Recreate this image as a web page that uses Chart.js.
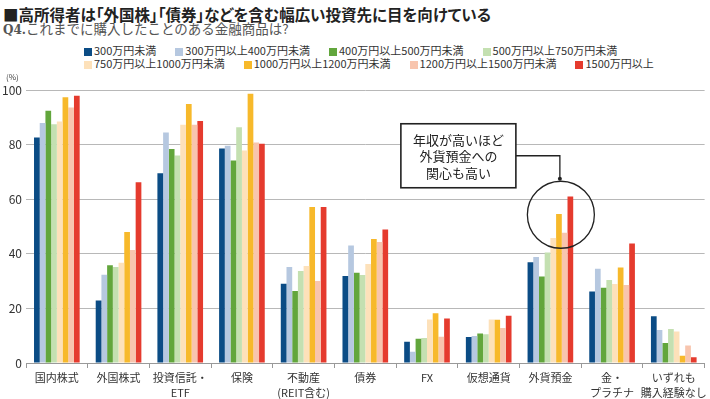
<!DOCTYPE html>
<html lang="ja">
<head>
	<meta charset="UTF-8">
	<title>これまでに購入したことのある金融商品</title>
	<script src="https://cdn.jsdelivr.net/npm/chart.js"></script>
	<style>
		body {
			margin: 0;
			width: 710px;
			height: 399px;
			position: relative;
			overflow: hidden;
			background: #fff;
			font-family: "Noto Sans CJK JP", sans-serif;
			color: #222;
		}

		#title {
			position: absolute;
			left: 3px;
			top: 4px;
			font-size: 15.5px;
			font-weight: bold;
			line-height: 20px;
			white-space: nowrap;
			font-feature-settings: "palt";
		}

		#subtitle {
			position: absolute;
			left: 3px;
			top: 19px;
			font-size: 13.5px;
			line-height: 18px;
			color: #555;
			white-space: nowrap;
		}

		#subtitle .q {
			font-family: "DejaVu Serif", "Liberation Serif", serif;
			font-weight: bold;
			font-size: 12px;
		}

		#legend {
			position: absolute;
			left: 84px;
			top: 44px;
			font-size: 11px;
			color: #333;
		}

		#legend .row {
			display: flex;
			gap: 19px;
			height: 13px;
			line-height: 13px;
			white-space: nowrap;
		}

		#legend .box {
			display: inline-block;
			width: 8px;
			height: 8px;
			margin-right: 2px;
			vertical-align: -0.5px;
		}

		#chart {
			position: absolute;
			left: 0;
			top: 0;
		}
	</style>
</head>

<body>

	<div id="title">■高所得者は「外国株」「債券」などを含む幅広い投資先に目を向けている</div>
	<div id="subtitle"><span class="q">Q4.</span>これまでに購入したことのある金融商品は?</div>
	<div id="legend"></div>
	<canvas id="chart" width="710" height="399"></canvas>

	<script>
		// categories (x axis)
		const categories = [
			['国内株式'], ['外国株式'], ['投資信託・', 'ETF'], ['保険'], ['不動産', '(REIT含む)'],
			['債券'], ['FX'], ['仮想通貨'], ['外貨預金'], ['金・', 'プラチナ'], ['いずれも', '購入経験なし']
		];

		// income brackets
		const seriesNames = [
			'300万円未満', '300万円以上400万円未満', '400万円以上500万円未満', '500万円以上750万円未満',
			'750万円以上1000万円未満', '1000万円以上1200万円未満', '1200万円以上1500万円未満', '1500万円以上'
		];

		// values in %, one array per bracket, same order as categories
		const under300 = [82.6, 22.9, 69.5, 78.6, 29.0, 31.9, 7.8, 9.5, 36.9, 26.2, 17.1];
		const from300to400 = [87.9, 32.3, 84.4, 79.6, 35.2, 43.0, 4.1, 9.9, 38.8, 34.5, 12.1];
		const from400to500 = [92.4, 35.8, 78.4, 74.2, 26.4, 33.1, 8.9, 10.8, 31.7, 27.6, 7.3];
		const from500to750 = [87.5, 35.2, 76.0, 86.4, 33.7, 32.2, 9.2, 10.5, 40.5, 30.4, 12.5];
		const from750to1000 = [88.5, 36.7, 87.3, 77.8, 35.5, 36.3, 15.9, 15.9, 45.8, 28.9, 11.5];
		const from1000to1200 = [97.3, 48.0, 94.9, 98.6, 57.1, 45.4, 18.2, 15.8, 54.6, 35.0, 2.7];
		const from1200to1500 = [93.6, 41.4, 87.3, 80.8, 30.0, 44.3, 9.6, 12.8, 47.7, 28.6, 6.4];
		const over1500 = [97.9, 66.2, 88.6, 80.3, 57.1, 48.9, 16.3, 17.3, 61.0, 43.8, 2.1];

		const seriesValues = [under300, from300to400, from400to500, from500to750,
			from750to1000, from1000to1200, from1200to1500, over1500];

		// y axis ticks
		const yTicks = [0, 20, 40, 60, 80, 100];

		const colors = ['#0b4c85', '#b6c8e0', '#62a63c', '#c4e0b1', '#fde1ba', '#f7b92b', '#f8c5ae', '#e53b2e'];

		// annotation
		const noteLines = ['年収が高いほど', '外貨預金への', '関心も高い'];
		const noteCategory = 8;
		const noteValue = 54.3;

		// build html legend (two rows of four)
		const legend = document.getElementById('legend');
		for (let r = 0; r < 2; r++) {
			const row = document.createElement('div');
			row.className = 'row';
			for (let i = r * 4; i < r * 4 + 4; i++) {
				const item = document.createElement('span');
				item.innerHTML = '<span class="box" style="background:' + colors[i] + '"></span>' + seriesNames[i];
				row.appendChild(item);
			}
			legend.appendChild(row);
		}

		Chart.defaults.font.family = '"Noto Sans CJK JP", sans-serif';
		Chart.defaults.color = '#333';

		// circle + callout box round the 外貨預金 group
		const notePlugin = {
			id: 'note',
			afterDatasetsDraw(chart) {
				const ctx = chart.ctx;
				const x = chart.scales.x;
				const y = chart.scales.y;
				const catW = x.getPixelForValue(1) - x.getPixelForValue(0);
				const cx = x.getPixelForValue(noteCategory) + catW * 0.17;
				const cy = y.getPixelForValue(noteValue);
				const r = 33.5;

				ctx.save();
				// (%) label
				ctx.fillStyle = '#444';
				ctx.font = '8px "Noto Sans CJK JP"';
				ctx.textAlign = 'left';
				ctx.textBaseline = 'middle';
				ctx.fillText('(%)', 6, y.getPixelForValue(100) - 13);

				ctx.strokeStyle = '#222';
				ctx.lineWidth = 1.3;
				ctx.beginPath();
				ctx.arc(cx, cy, r, 0, Math.PI * 2);
				ctx.stroke();

				// connector
				ctx.beginPath();
				ctx.moveTo(cx - 45, cy - 59);
				ctx.lineTo(cx - 1, cy - 59);
				ctx.lineTo(cx - 1, cy - 36);
				ctx.stroke();
				ctx.fillStyle = '#222';
				ctx.beginPath();
				ctx.arc(cx - 1, cy - 36, 2, 0, Math.PI * 2);
				ctx.fill();

				// box
				const bx = cx - 160, by = cy - 91, bw = 115, bh = 64;
				ctx.fillStyle = '#fff';
				ctx.fillRect(bx, by, bw, bh);
				ctx.lineWidth = 1.6;
				ctx.strokeRect(bx, by, bw, bh);
				ctx.fillStyle = '#222';
				ctx.font = '13px "Noto Sans CJK JP"';
				ctx.textAlign = 'center';
				noteLines.forEach((t, i) => {
					ctx.fillText(t, bx + bw / 2, by + 16 + i * 16.5);
				});
				ctx.restore();
			}
		};

		new Chart(document.getElementById('chart'), {
			type: 'bar',
			data: {
				labels: categories,
				datasets: seriesValues.map((vals, i) => ({
					label: seriesNames[i],
					data: vals,
					backgroundColor: colors[i],
					borderWidth: 0,
					categoryPercentage: 0.74,
					barPercentage: 1.0
				}))
			},
			options: {
				responsive: false,
				animation: false,
				layout: {
					padding: {top: 90, right: 5, left: 0, bottom: 0}
				},
				plugins: {
					legend: {display: false},
					tooltip: {enabled: false}
				},
				scales: {
					x: {
						grid: {
							offset: true,
							drawOnChartArea: false,
							tickLength: 5,
							color: '#999'
						},
						border: {color: '#999'},
						ticks: {
							padding: 3,
							maxRotation: 0,
							autoSkip: false,
							font: {size: 11, lineHeight: 1.3},
							color: '#333'
						},
						afterFit(scale) {
							scale.height = 36;
						}
					},
					y: {
						min: 0,
						max: 100,
						afterBuildTicks(scale) {
							scale.ticks = yTicks.map(v => ({value: v}));
						},
						grid: {
							color: '#b8b8b8',
							drawTicks: false
						},
						border: {display: false},
						ticks: {
							padding: 4,
							font: {size: 12},
							color: '#333'
						},
						afterFit(scale) {
							scale.width = 26;
						}
					}
				}
			},
			plugins: [notePlugin]
		});
	</script>

</body>

</html>
